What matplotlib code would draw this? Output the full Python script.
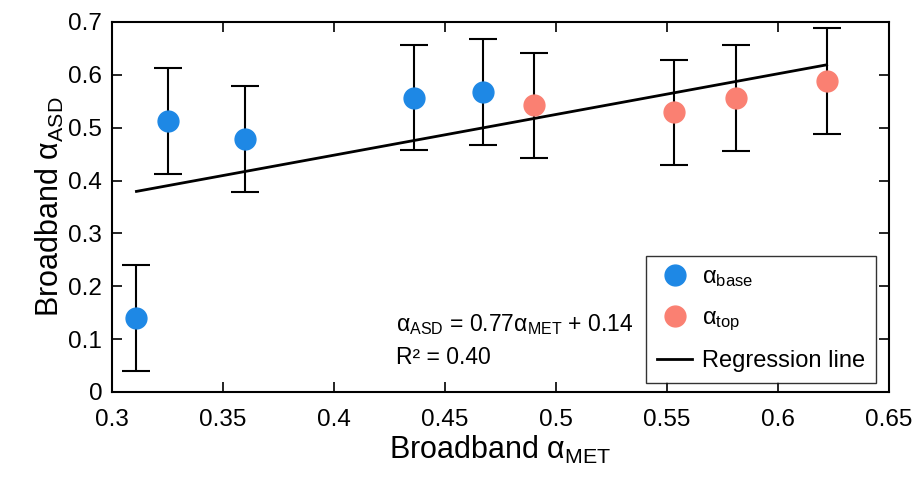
import matplotlib
matplotlib.use("Agg")
import matplotlib.pyplot as plt
from matplotlib.lines import Line2D

plt.rcParams['font.family'] = ['Liberation Sans', 'DejaVu Sans']
plt.rcParams['mathtext.fontset'] = 'custom'
plt.rcParams['mathtext.rm'] = 'Liberation Sans'
plt.rcParams['mathtext.it'] = 'Liberation Sans:italic'

# data
base_x = [0.311, 0.325, 0.360, 0.436, 0.467]
base_y = [0.140, 0.512, 0.478, 0.557, 0.568]
top_x = [0.490, 0.553, 0.581, 0.622]
top_y = [0.542, 0.529, 0.556, 0.588]
err = 0.10
slope, intercept = 0.77, 0.14
xticks = [0.3, 0.35, 0.4, 0.45, 0.5, 0.55, 0.6, 0.65]
yticks = [0, 0.1, 0.2, 0.3, 0.4, 0.5, 0.6, 0.7]

blue = '#1e88e5'
red = '#fa8072'

fig = plt.figure(figsize=(9.16, 4.78), dpi=100)
ax = fig.add_axes([0.1223, 0.180, 0.848, 0.774])

all_x = base_x + top_x
all_y = base_y + top_y
ax.errorbar(all_x, all_y, yerr=err, fmt='none', ecolor='black',
            elinewidth=1.5, capsize=10, capthick=1.5, zorder=2)

# regression line over the range of the data
x0, x1 = min(all_x), max(all_x)
ax.plot([x0, x1], [slope * x0 + intercept, slope * x1 + intercept],
        color='black', lw=2, zorder=3)

ax.plot(base_x, base_y, 'o', color=blue, ms=15, zorder=4)
ax.plot(top_x, top_y, 'o', color=red, ms=15, zorder=4)

ax.set_xlim(0.3, 0.65)
ax.set_ylim(0, 0.7)
ax.set_xticks(xticks)
ax.set_xticklabels([f'{t:g}' for t in xticks])
ax.set_yticks(yticks)
ax.set_yticklabels([f'{t:g}' for t in yticks])
ax.tick_params(direction='in', length=7, width=1.2, labelsize=17.5,
               top=True, right=True)
ax.tick_params(axis='x', pad=12)
ax.tick_params(axis='y', pad=7)
for s in ax.spines.values():
    s.set_linewidth(1.5)

ax.set_xlabel('Broadband α$_{\\mathrm{MET}}$', fontsize=22, labelpad=2)
ax.set_ylabel('Broadband α$_{\\mathrm{ASD}}$', fontsize=22, labelpad=2)

ax.text(0.428, 0.127, 'α$_{\\mathrm{ASD}}$ = 0.77α$_{\\mathrm{MET}}$ + 0.14',
        fontsize=16.5, va='center')
ax.text(0.428, 0.066, 'R² = 0.40', fontsize=16.5, va='center')

handles = [
    Line2D([], [], marker='o', ls='none', color=blue, ms=15),
    Line2D([], [], marker='o', ls='none', color=red, ms=15),
    Line2D([], [], color='black', lw=2),
]
labels = ['α$_{\\mathrm{base}}$', 'α$_{\\mathrm{top}}$', 'Regression line']
leg = ax.legend(handles, labels, loc='lower right', bbox_to_anchor=(0.983, 0.024),
                fontsize=17, frameon=True, fancybox=False, edgecolor='black',
                handlelength=1.5, handletextpad=0.4, labelspacing=0.75,
                borderpad=0.45, borderaxespad=0)
leg.get_frame().set_linewidth(1.0)

fig.savefig('out.png', dpi=100)
